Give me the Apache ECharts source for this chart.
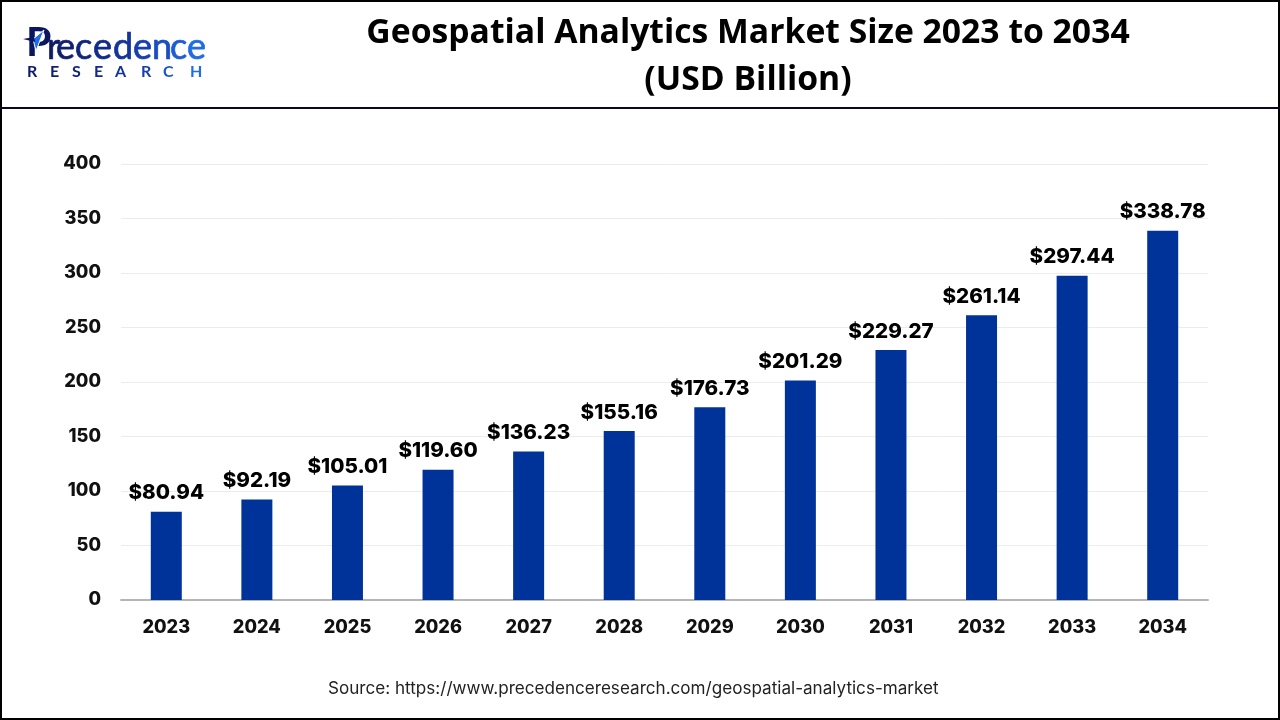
<!DOCTYPE html>
<html>
<head>
<meta charset="utf-8">
<title>Geospatial Analytics Market Size</title>
<script src="https://cdn.jsdelivr.net/npm/echarts@6/dist/echarts.min.js"></script>
<style>
html, body { margin: 0; padding: 0; background: #fff; }
#main { width: 1280px; height: 720px; }
</style>
</head>
<body>
<div id="main"></div>
<script>
var years = ['2023','2024','2025','2026','2027','2028','2029','2030','2031','2032','2033','2034'];
var marketSize = [80.94,92.19,105.01,119.60,136.23,155.16,176.73,201.29,229.27,261.14,297.44,338.78];
var yTicks = [0,50,100,150,200,250,300,350,400];
var titleText = 'Geospatial Analytics Market Size 2023 to 2034\n(USD Billion)';
var sourceText = 'Source: https://www.precedenceresearch.com/geospatial-analytics-market';

var chart = echarts.init(document.getElementById('main'));

// logo, letter by letter so the colour can go from navy to bright blue
var logoTop = ['r','e','c','e','d','e','n','c','e'];
var logoTopColors = ['#0f1a66','#0f1e70','#10247c','#122b8a','#14349a','#173fae','#1a4cc2','#1d5cd6','#1f6ce6'];
var logoBottom = ['R','E','S','E','A','R','C','H'];
var logoBottomColors = ['#0f1a66','#0f1e70','#10247c','#122b8a','#14349a','#173fae','#1a55c8','#1f6ce6'];

var logoParts = [];
var topX = [47,56,75,93,113,133,152,170,187];
for (var i = 0; i < logoTop.length; i++) {
    logoParts.push({ type: 'text', silent: true, x: topX[i], y: 29,
        style: { text: logoTop[i], fontFamily: 'Lato', fontSize: 36, fill: logoTopColors[i], stroke: logoTopColors[i], lineWidth: 0.7 } });
}
var bottomX = [27,50,72,94,115,141,163,190];
for (var j = 0; j < logoBottom.length; j++) {
    logoParts.push({ type: 'text', silent: true, x: bottomX[j], y: 64,
        style: { text: logoBottom[j], fontFamily: 'Lato', fontSize: 16, fontWeight: 'bold', fill: logoBottomColors[j] } });
}

var option = {
    animation: false,
    backgroundColor: '#fff',
    title: {
        text: titleText,
        left: 743,
        top: 5,
        textAlign: 'center',
        textStyle: {
            fontFamily: 'Open Sans',
            fontSize: 33.7,
            fontWeight: 'bold',
            color: '#000',
            lineHeight: 47
        }
    },
    grid: { left: 121, right: 72, top: 164, bottom: 120 },
    xAxis: {
        type: 'category',
        data: years,
        axisTick: { show: false },
        axisLine: { lineStyle: { color: '#b5b5b5', width: 2 } },
        axisLabel: {
            margin: 19,
            fontFamily: 'Inter',
            fontSize: 18.2,
            fontWeight: 800,
            color: '#111'
        }
    },
    yAxis: {
        type: 'value',
        min: 0,
        max: yTicks[yTicks.length - 1],
        interval: 50,
        axisLine: { show: false },
        axisTick: { show: false },
        splitLine: { lineStyle: { color: '#ececec', width: 1 } },
        axisLabel: {
            margin: 20,
            fontFamily: 'Inter',
            fontSize: 18.2,
            fontWeight: 800,
            color: '#111'
        }
    },
    series: [{
        name: 'Market Size',
        type: 'bar',
        data: marketSize,
        barWidth: 31,
        itemStyle: { color: '#003399' },
        label: {
            show: true,
            position: 'top',
            distance: 8,
            fontFamily: 'Inter',
            fontSize: 20.6,
            fontWeight: 800,
            color: '#000',
            formatter: function (p) { return '$' + p.value.toFixed(2); }
        }
    }],
    graphic: [
        { type: 'rect', silent: true, shape: { x: 1, y: 1, width: 1278, height: 718 },
          style: { fill: 'none', stroke: '#000', lineWidth: 2 } },
        { type: 'rect', silent: true, shape: { x: 0, y: 107, width: 1280, height: 2 },
          style: { fill: '#05052e' } },
        { type: 'text', silent: true, x: 26, y: 22,
          style: { text: 'P', fontFamily: 'Lato', fontSize: 41, fontWeight: 'bold', fill: '#0b1560' } },
        { type: 'polygon', silent: true, shape: { points: [[44,30],[33,39],[36,51]] }, style: { fill: '#1f6ce6', stroke: '#fff', lineWidth: 1 } },
        { type: 'polygon', silent: true, shape: { points: [[23,39],[34,37],[35,42]] }, style: { fill: '#0b1560' } },
        { type: 'text', silent: true, x: 328, y: 680,
          style: { text: sourceText, fontFamily: 'Inter', fontSize: 17.1, fill: '#222' } }
    ].concat(logoParts)
};

chart.setOption(option);
window.onresize = chart.resize;
</script>
</body>
</html>
